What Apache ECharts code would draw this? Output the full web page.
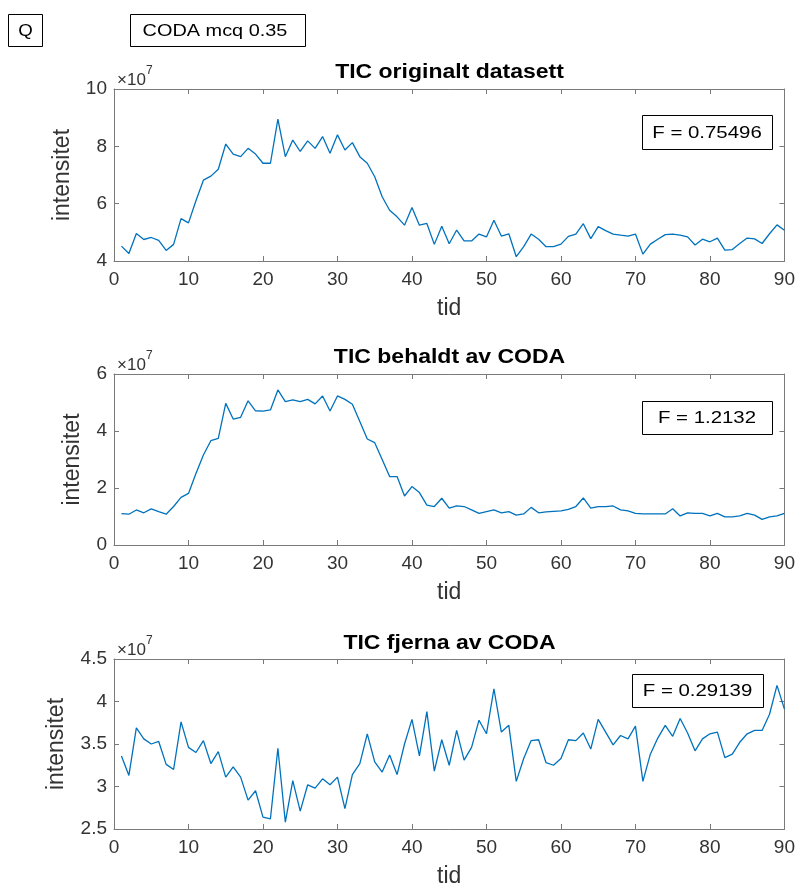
<!DOCTYPE html>
<html>
<head>
<meta charset="utf-8">
<script src="https://cdn.jsdelivr.net/npm/echarts@6/dist/echarts.min.js"></script>
<style>
html,body{margin:0;padding:0;background:#fff;}
#chart{width:798px;height:889px;}
</style>
</head>
<body>
<div id="chart"></div>
<script>
// time index (tid)
var tid = [1,2,3,4,5,6,7,8,9,10,11,12,13,14,15,16,17,18,19,20,21,22,23,24,25,26,27,28,29,30,
  31,32,33,34,35,36,37,38,39,40,41,42,43,44,45,46,47,48,49,50,51,52,53,54,55,56,57,58,59,60,
  61,62,63,64,65,66,67,68,69,70,71,72,73,74,75,76,77,78,79,80,81,82,83,84,85,86,87,88,89,90];

// values in units of 1e7
var ticOriginal = [4.52,4.26,4.96,4.75,4.82,4.72,4.37,4.58,5.48,5.33,
  6.10,6.82,6.96,7.20,8.08,7.73,7.64,7.93,7.73,7.41,
  7.41,8.95,7.64,8.22,7.82,8.19,7.93,8.34,7.76,8.40,
  7.87,8.13,7.64,7.41,6.94,6.24,5.77,5.54,5.25,5.87,
  5.25,5.31,4.58,5.21,4.60,5.08,4.70,4.70,4.94,4.84,
  5.42,4.87,4.95,4.15,4.50,4.94,4.76,4.50,4.50,4.59,
  4.86,4.94,5.30,4.78,5.20,5.06,4.94,4.90,4.87,4.94,
  4.24,4.59,4.76,4.92,4.94,4.90,4.84,4.56,4.76,4.67,
  4.80,4.38,4.40,4.61,4.80,4.77,4.61,4.95,5.26,5.07];

var ticKept = [1.10,1.08,1.23,1.13,1.27,1.17,1.08,1.35,1.67,1.81,
  2.51,3.16,3.66,3.74,4.97,4.42,4.48,5.06,4.71,4.70,
  4.74,5.44,5.03,5.09,5.03,5.11,4.95,5.23,4.70,5.23,
  5.11,4.94,4.33,3.72,3.59,3.00,2.40,2.40,1.72,2.05,
  1.84,1.40,1.35,1.64,1.29,1.37,1.35,1.23,1.11,1.17,
  1.23,1.13,1.17,1.05,1.09,1.32,1.13,1.16,1.18,1.20,
  1.25,1.35,1.65,1.29,1.35,1.35,1.37,1.23,1.20,1.11,
  1.09,1.09,1.09,1.09,1.27,1.02,1.13,1.11,1.11,1.02,
  1.11,0.99,0.99,1.02,1.11,1.05,0.90,0.99,1.02,1.11];

var ticRemoved = [3.36,3.13,3.69,3.56,3.50,3.53,3.26,3.20,3.76,3.46,
  3.40,3.54,3.27,3.41,3.11,3.23,3.11,2.84,2.95,2.64,
  2.62,3.45,2.58,3.07,2.71,3.02,2.98,3.09,3.02,3.11,
  2.74,3.14,3.27,3.62,3.29,3.17,3.37,3.14,3.50,3.79,
  3.36,3.88,3.18,3.55,3.25,3.66,3.31,3.46,3.78,3.62,
  4.15,3.64,3.72,3.06,3.33,3.54,3.55,3.28,3.25,3.33,
  3.55,3.54,3.63,3.44,3.79,3.64,3.49,3.60,3.56,3.71,
  3.06,3.38,3.57,3.72,3.59,3.80,3.63,3.42,3.56,3.62,
  3.64,3.34,3.38,3.52,3.62,3.66,3.66,3.85,4.19,3.91];

var titles = ['TIC originalt datasett', 'TIC behaldt av CODA', 'TIC fjerna av CODA'];
var fLabels = ['F = 0.75496', 'F = 1.2132', 'F = 0.29139'];
var yMins = [4, 0, 2.5];
var yMaxs = [10, 6, 4.5];
var yIntervals = [2, 2, 0.5];
var xMin = 0, xMax = 90, xInterval = 10;
var xName = 'tid', yName = 'intensitet';
var exponentText = '×10', exponentPower = '7';
var panelLabel = 'Q', methodLabel = 'CODA mcq 0.35';

var seriesValues = [ticOriginal, ticKept, ticRemoved];

var FONT = '"Liberation Sans", Arial, sans-serif';
var AXC = '#7a7a7a';
var TXC = '#333333';
var SX = 1.2; // horizontal stretch of the reference text

var gridTops = [89, 374, 659];
var gridH = [172, 171, 172];
var yNameGaps = [40, 30, 46];
var titleY = [72, 357, 643];
var fBox = [[642,115,130,34],[642,401,130,33],[632,674,131,33]];

var grids = [], xAxes = [], yAxes = [], series = [], graphics = [];
for (var i = 0; i < 3; i++) {
  grids.push({left: 114, right: 13, top: gridTops[i], height: gridH[i], containLabel: false});
  var tickStyle = {show: true, inside: true, length: 5, lineStyle: {color: AXC}};
  xAxes.push({
    type: 'value', gridIndex: i, min: xMin, max: xMax, interval: xInterval,
    position: 'bottom',
    axisLine: {show: true, onZero: false, lineStyle: {color: AXC, width: 1}},
    axisTick: tickStyle,
    splitLine: {show: false},
    axisLabel: {color: TXC, fontFamily: FONT, fontSize: 19, margin: 9},
    name: xName, nameLocation: 'middle', nameGap: 36,
    nameTextStyle: {color: TXC, fontFamily: FONT, fontSize: 23, verticalAlign: 'top'}
  });
  xAxes.push({
    type: 'value', gridIndex: i, min: xMin, max: xMax, interval: xInterval,
    position: 'top',
    axisLine: {show: true, onZero: false, lineStyle: {color: AXC, width: 1}},
    axisTick: tickStyle, splitLine: {show: false}, axisLabel: {show: false}
  });
  yAxes.push({
    type: 'value', gridIndex: i, min: yMins[i], max: yMaxs[i], interval: yIntervals[i],
    position: 'left',
    axisLine: {show: true, onZero: false, lineStyle: {color: AXC, width: 1}},
    axisTick: tickStyle, splitLine: {show: false},
    axisLabel: {color: TXC, fontFamily: FONT, fontSize: 19, margin: 7},
    name: yName, nameLocation: 'middle', nameGap: yNameGaps[i],
    nameTextStyle: {color: TXC, fontFamily: FONT, fontSize: 23}
  });
  yAxes.push({
    type: 'value', gridIndex: i, min: yMins[i], max: yMaxs[i], interval: yIntervals[i],
    position: 'right',
    axisLine: {show: true, onZero: false, lineStyle: {color: AXC, width: 1}},
    axisTick: tickStyle, splitLine: {show: false}, axisLabel: {show: false}
  });
  var vals = seriesValues[i];
  var d = [];
  for (var k = 0; k < tid.length; k++) d.push([tid[k], vals[k]]);
  series.push({
    type: 'line', xAxisIndex: 2*i, yAxisIndex: 2*i, data: d,
    showSymbol: false, symbol: 'none',
    lineStyle: {color: '#0072BD', width: 1.3}, animation: false
  });
  graphics.push({
    type: 'text', x: 449.5, y: titleY[i], scaleX: 1.15,
    style: {text: titles[i], font: 'bold 20px ' + FONT, fill: '#000', textAlign: 'center', textVerticalAlign: 'middle'}
  });
  graphics.push({
    type: 'text', x: 117, y: gridTops[i] - 17,
    style: {text: exponentText, font: '17px ' + FONT, fill: TXC, textAlign: 'left', textVerticalAlign: 'top'}
  });
  graphics.push({
    type: 'text', x: 146, y: gridTops[i] - 24,
    style: {text: exponentPower, font: '12px ' + FONT, fill: TXC, textAlign: 'left', textVerticalAlign: 'top'}
  });
  var b = fBox[i];
  graphics.push({
    type: 'rect', shape: {x: b[0] + 0.5, y: b[1] + 0.5, width: b[2], height: b[3]},
    style: {fill: '#fff', stroke: '#000', lineWidth: 1}, z: 10
  });
  graphics.push({
    type: 'text', x: b[0] + b[2] / 2, y: b[1] + b[3] / 2 + 1, z: 11, scaleX: SX,
    style: {text: fLabels[i], font: '17px ' + FONT, fill: '#000', textAlign: 'center', textVerticalAlign: 'middle'}
  });
}
graphics.push({type: 'rect', shape: {x: 8.5, y: 14.5, width: 34, height: 32}, style: {fill: '#fff', stroke: '#000', lineWidth: 1}});
graphics.push({type: 'text', x: 25.5, y: 31, scaleX: 1.1, style: {text: panelLabel, font: '17px ' + FONT, fill: '#000', textAlign: 'center', textVerticalAlign: 'middle'}});
graphics.push({type: 'rect', shape: {x: 130.5, y: 14.5, width: 175, height: 32}, style: {fill: '#fff', stroke: '#000', lineWidth: 1}});
graphics.push({type: 'text', x: 215, y: 31, scaleX: 1.17, style: {text: methodLabel, font: '17px ' + FONT, fill: '#000', textAlign: 'center', textVerticalAlign: 'middle'}});

var chart = echarts.init(document.getElementById('chart'), null, {renderer: 'canvas'});
chart.setOption({
  backgroundColor: '#fff',
  animation: false,
  grid: grids,
  xAxis: xAxes,
  yAxis: yAxes,
  series: series,
  graphic: graphics
});
</script>
</body>
</html>
